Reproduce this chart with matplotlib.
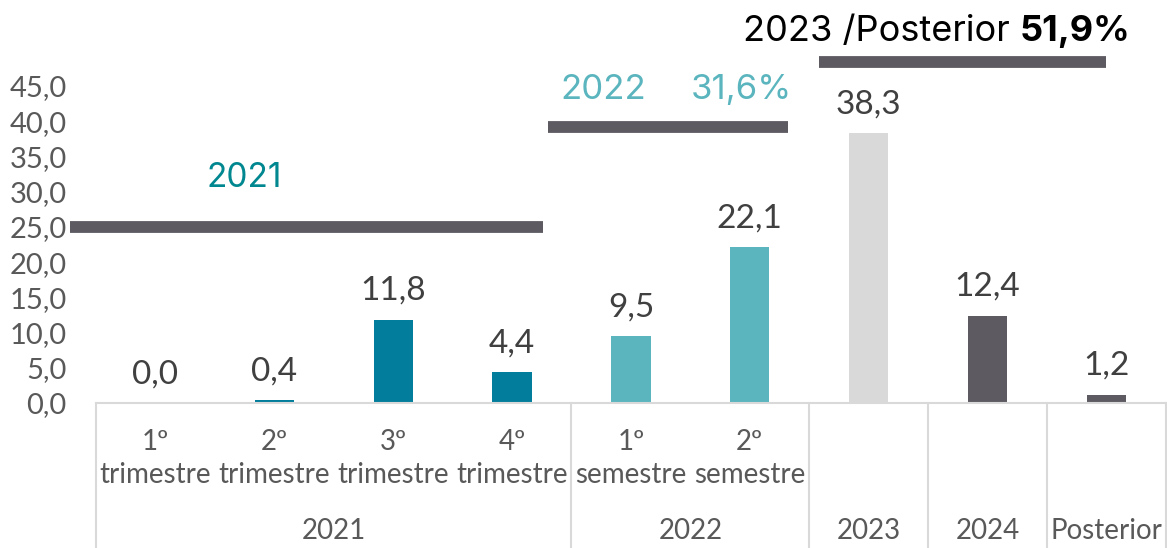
import numpy as np
import matplotlib
matplotlib.use("Agg")
from matplotlib import pyplot as plt
from matplotlib import transforms

# Data
sub_labels = ["1º\ntrimestre", "2º\ntrimestre", "3º\ntrimestre", "4º\ntrimestre",
              "1º\nsemestre", "2º\nsemestre", "", "", ""]
values = [0.0, 0.4, 11.8, 4.4, 9.5, 22.1, 38.3, 12.4, 1.2]
value_labels = ["0,0", "0,4", "11,8", "4,4", "9,5", "22,1", "38,3", "12,4", "1,2"]
groups = ["2021", "2022", "2023", "2024", "Posterior"]
group_sizes = [4, 2, 1, 1, 1]
group_colors = ["#027e9c", "#5bb5be", "#d9d9d9", "#5d5b61", "#5d5b61"]
yticks = [0, 5, 10, 15, 20, 25, 30, 35, 40, 45]

plt.rcParams['font.family'] = ['Lato', 'DejaVu Sans']

fig = plt.figure(figsize=(11.67, 5.48), dpi=100)
ax = fig.add_axes([96 / 1167, 1 - 403 / 548, 1 - 96 / 1167 - 0.001, (403 - 86) / 548])

colors = []
for c, n in zip(group_colors, group_sizes):
    colors += [c] * n
x = np.arange(len(values))
ax.bar(x, values, width=0.33, color=colors, zorder=2)
for xi, v, lab in zip(x, values, value_labels):
    ax.annotate(lab, (xi, v), xytext=(0, 10), textcoords="offset points",
                ha="center", va="bottom", fontsize=24, color="#404040")

ax.set_xlim(-0.5, len(values) - 0.5)
ax.set_ylim(0, 45)
ax.set_yticks(yticks)
ax.set_yticklabels([f"{t:.1f}".replace(".", ",") for t in yticks],
                   fontsize=21, color="#595959")
ax.tick_params(axis="y", length=0, pad=21)
ax.set_xticks([])
for s in ["top", "right", "left"]:
    ax.spines[s].set_visible(False)
ax.spines["bottom"].set_color("#d9d9d9")
ax.spines["bottom"].set_linewidth(1.5)

# Multi-level category axis
trans = transforms.blended_transform_factory(ax.transData, ax.transAxes)
bottom = -(548 - 403) / (403 - 86)
for xi, lab in zip(x, sub_labels):
    if lab:
        ax.text(xi, -0.175, lab, transform=trans, ha="center", va="center",
                fontsize=20, color="#595959", linespacing=1.3)
start = 0
edges = [-0.5]
for g, n in zip(groups, group_sizes):
    mid = start + (n - 1) / 2
    ax.text(mid, -0.405, g, transform=trans, ha="center", va="center",
            fontsize=20, color="#595959")
    start += n
    edges.append(start - 0.5)
for e in edges:
    ax.plot([e, e], [0, bottom], transform=trans, color="#d9d9d9", lw=1.5,
            clip_on=False)

# Period brackets and headers
brackets = [(-0.72, 3.26, 25.0), (3.30, 5.32, 39.2), (5.58, 8.0, 48.4)]
for x0, x1, y in brackets:
    ax.plot([x0, x1], [y, y], color="#5d5b61", lw=8.5, solid_capstyle="butt",
            clip_on=False, zorder=3)

hfont = ['Inter', 'DejaVu Sans']
ax.text(0.75, 31.9, "2021", ha="center", va="center", fontsize=24,
        color="#00878f", family=hfont, clip_on=False)
ax.text(3.77, 44.4, "2022", ha="center", va="center", fontsize=25,
        color="#5bb5be", family=hfont, clip_on=False)
ax.text(4.93, 44.4, "31,6%", ha="center", va="center", fontsize=25,
        color="#5bb5be", family=hfont, clip_on=False)
ax.text(7.27, 52.8, "2023 /Posterior ", ha="right", va="center", fontsize=26,
        color="#000000", family=hfont, clip_on=False)
ax.text(7.27, 52.8, "51,9%", ha="left", va="center", fontsize=26,
        color="#000000", family=hfont, fontweight="bold", clip_on=False)

fig.savefig("out.png", dpi=100)
